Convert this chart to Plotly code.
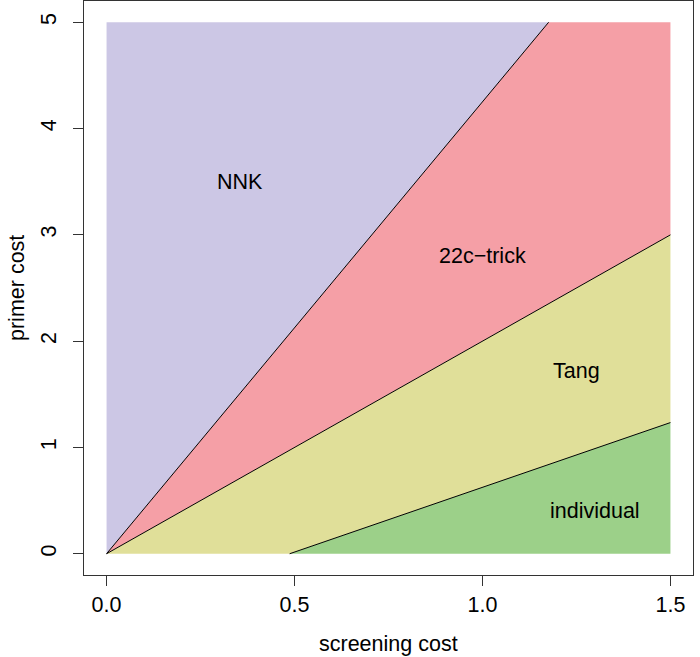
import plotly.graph_objects as go

# region boundaries (screening cost, primer cost)
nnk_x = [0.0, 0.0, 1.176]
nnk_y = [0.0, 5.0, 5.0]
trick_x = [0.0, 1.176, 1.5, 1.5]
trick_y = [0.0, 5.0, 5.0, 3.0]
tang_x = [0.0, 1.5, 1.5, 0.487]
tang_y = [0.0, 3.0, 1.234, 0.0]
indiv_x = [0.487, 1.5, 1.5]
indiv_y = [0.0, 1.234, 0.0]

# dividing lines
line1_x = [0.0, 1.176]
line1_y = [0.0, 5.0]
line2_x = [0.0, 1.5]
line2_y = [0.0, 3.0]
line3_x = [0.487, 1.5]
line3_y = [0.0, 1.234]

labels = ["NNK", "22c\u2212trick", "Tang", "individual"]
label_x = [0.355, 1.0, 1.25, 1.3]
label_y = [3.5, 2.8, 1.72, 0.4]

x_ticks = [0.0, 0.5, 1.0, 1.5]
x_ticktext = ["0.0", "0.5", "1.0", "1.5"]
y_ticks = [0, 1, 2, 3, 4, 5]

font = "Liberation Sans, Arial, sans-serif"
fs = 21.5

fig = go.Figure()

regions = [
    (nnk_x, nnk_y, "rgb(204,199,229)"),
    (trick_x, trick_y, "rgb(245,159,166)"),
    (tang_x, tang_y, "rgb(224,223,153)"),
    (indiv_x, indiv_y, "rgb(156,208,137)"),
]
for xs, ys, col in regions:
    fig.add_trace(
        go.Scatter(
            x=xs, y=ys, fill="toself", fillcolor=col,
            mode="lines", line={"width": 0}, hoverinfo="skip", showlegend=False,
        )
    )

for xs, ys in [(line1_x, line1_y), (line2_x, line2_y), (line3_x, line3_y)]:
    fig.add_trace(
        go.Scatter(
            x=xs, y=ys, mode="lines", line={"color": "black", "width": 1},
            hoverinfo="skip", showlegend=False,
        )
    )

for t, lx, ly in zip(labels, label_x, label_y):
    fig.add_annotation(
        x=lx, y=ly, text=t, showarrow=False,
        font={"family": font, "size": fs, "color": "black"},
    )

# axis titles
fig.add_annotation(
    x=0.5, y=0, xref="paper", yref="paper", text="screening cost",
    showarrow=False, yanchor="middle", yshift=-69,
    font={"family": font, "size": fs, "color": "black"},
)
fig.add_annotation(
    x=0, y=0.5, xref="paper", yref="paper", text="primer cost",
    showarrow=False, xanchor="center", xshift=-67, textangle=-90,
    font={"family": font, "size": fs, "color": "black"},
)

axis_common = dict(
    showgrid=False, zeroline=False, showline=True, linecolor="#333333",
    linewidth=1, mirror=True, ticks="outside", ticklen=10, tickcolor="#333333",
    tickfont={"family": font, "size": fs, "color": "black"},
)

fig.update_xaxes(
    range=[-0.06, 1.56], tickvals=x_ticks, ticktext=x_ticktext,
    ticklabelstandoff=0, **axis_common,
)
fig.update_yaxes(
    range=[-0.2, 5.2], tickvals=y_ticks, tickangle=-90,
    ticklabelstandoff=8, **axis_common,
)

fig.update_layout(
    width=700, height=657,
    margin={"l": 84, "r": 7, "t": 1, "b": 82},
    plot_bgcolor="white", paper_bgcolor="white",
    font={"family": font, "size": fs},
)

fig.write_html(
    "out.html",
    config={"displayModeBar": False},
    post_script="document.body.style.margin='0';",
)
